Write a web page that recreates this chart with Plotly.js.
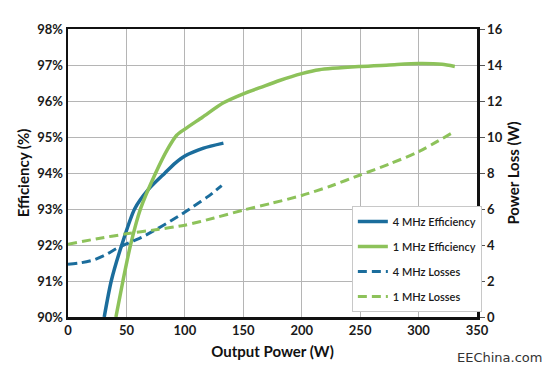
<!DOCTYPE html>
<html>
<head>
<meta charset="utf-8">
<script src="https://cdn.plot.ly/plotly-3.0.1.min.js"></script>
<style>
html,body{margin:0;padding:0;background:#fff;}
#chart{width:543px;height:372px;}
</style>
</head>
<body>
<div id="chart"></div>
<script>
// Output power (W) and efficiency (%) - 4 MHz
const eff4X = [31, 37, 46, 57, 69, 83, 92, 100, 116, 133];
const eff4Y = [90, 91, 92, 93, 93.55, 94, 94.28, 94.47, 94.69, 94.83];
// 1 MHz efficiency
const eff1X = [41, 47, 53.5, 62, 75, 85, 93, 100, 115, 133, 150, 165, 181, 200, 215, 250, 275, 300, 320, 331];
const eff1Y = [90, 91, 92, 93, 94, 94.65, 95.05, 95.22, 95.55, 95.95, 96.2, 96.38, 96.57, 96.76, 96.87, 96.96, 97.0, 97.04, 97.02, 96.96];
// 4 MHz losses (W)
const loss4X = [0, 10, 22, 32, 42, 53, 64, 75, 87, 97, 107, 120, 131.5];
const loss4Y = [2.93, 3.0, 3.17, 3.45, 3.82, 4.15, 4.46, 4.85, 5.3, 5.7, 6.13, 6.7, 7.3];
// 1 MHz losses (W)
const loss1X = [0, 25, 50, 75, 100, 125, 150, 175, 200, 225, 250, 275, 300, 329];
const loss1Y = [4.04, 4.35, 4.62, 4.85, 5.1, 5.5, 5.94, 6.33, 6.75, 7.28, 7.89, 8.5, 9.18, 10.24];

const seriesNames = ['4 MHz Efficiency', '1 MHz Efficiency', '4 MHz Losses', '1 MHz Losses'];
const xTicks = [0, 50, 100, 150, 200, 250, 300, 350];
const yTicks = [90, 91, 92, 93, 94, 95, 96, 97, 98];
const y2Ticks = [0, 2, 4, 6, 8, 10, 12, 14, 16];

const BLUE = '#1b6d9c';
const GREEN = '#8dc25a';
const FONT = 'Lato, Roboto, sans-serif';

const traces = [
  {x: eff4X, y: eff4Y, name: seriesNames[0], type: 'scatter', mode: 'lines', legendgroup: 'a',
   line: {color: BLUE, width: 3.5, shape: 'spline', smoothing: 0.7}},
  {x: eff1X, y: eff1Y, name: seriesNames[1], type: 'scatter', mode: 'lines', legendgroup: 'b',
   line: {color: GREEN, width: 3.5, shape: 'spline', smoothing: 0.7}},
  {x: loss4X, y: loss4Y, name: seriesNames[2], type: 'scatter', mode: 'lines', yaxis: 'y2', legendgroup: 'c',
   line: {color: BLUE, width: 3, dash: '9px,5px', shape: 'spline', smoothing: 0.7}},
  {x: loss1X, y: loss1Y, name: seriesNames[3], type: 'scatter', mode: 'lines', yaxis: 'y2', legendgroup: 'd',
   line: {color: GREEN, width: 3, dash: '9px,5px', shape: 'spline', smoothing: 0.7}}
];

const layout = {
  width: 543, height: 372,
  margin: {l: 68, r: 66, t: 29, b: 55},
  paper_bgcolor: '#ffffff', plot_bgcolor: '#ffffff',
  font: {family: FONT, size: 12, color: '#1a1a1a'},
  showlegend: true,
  legend: {
    x: 0.694, y: 0.385, xanchor: 'left', yanchor: 'top',
    bgcolor: '#ffffff', bordercolor: '#c8c8c8', borderwidth: 1,
    font: {family: FONT, size: 11, color: '#1a1a1a', weight: 600},
    traceorder: 'grouped', tracegroupgap: 6, itemwidth: 30
  },
  xaxis: {
    range: [0, 350], tickvals: xTicks, ticktext: xTicks.map(String),
    showgrid: true, gridcolor: '#b5b5b5', gridwidth: 1,
    showline: true, linecolor: '#111', linewidth: 2.5, mirror: true,
    ticks: '', zeroline: false,
    tickfont: {family: FONT, size: 13, color: '#1a1a1a', weight: 700},
    title: {text: '<b>Output Power (W)</b>', font: {family: FONT, size: 15, color: '#111', weight: 900}, standoff: 10}
  },
  yaxis: {
    range: [90, 98], tickvals: yTicks, ticktext: yTicks.map(v => v + '%'),
    showgrid: true, gridcolor: '#b5b5b5', gridwidth: 1,
    showline: true, linecolor: '#111', linewidth: 2.5, mirror: true,
    ticks: '', zeroline: false,
    tickfont: {family: FONT, size: 13, color: '#1a1a1a', weight: 700},
    title: {text: '<b>Efficiency (%)</b>', font: {family: FONT, size: 15, color: '#111', weight: 900}, standoff: 4}
  },
  yaxis2: {
    range: [0, 16], tickvals: y2Ticks, ticktext: y2Ticks.map(String),
    overlaying: 'y', side: 'right', showgrid: false, zeroline: false,
    showline: true, linecolor: '#111', linewidth: 2.5,
    ticks: 'outside', ticklen: 5, tickcolor: '#555', tickwidth: 1,
    tickfont: {family: FONT, size: 13, color: '#1a1a1a', weight: 700},
    title: {text: '<b>Power Loss (W)</b>', font: {family: FONT, size: 15, color: '#111', weight: 900}, standoff: 7}
  },
  annotations: [{
    text: 'EEChina.com', xref: 'paper', yref: 'paper', x: 1.056, y: -0.139,
    xanchor: 'center', yanchor: 'middle', showarrow: false,
    font: {family: '"DejaVu Sans", sans-serif', size: 13, color: '#333'}
  }]
};

Plotly.newPlot('chart', traces, layout, {displayModeBar: false, staticPlot: true});
</script>
</body>
</html>
